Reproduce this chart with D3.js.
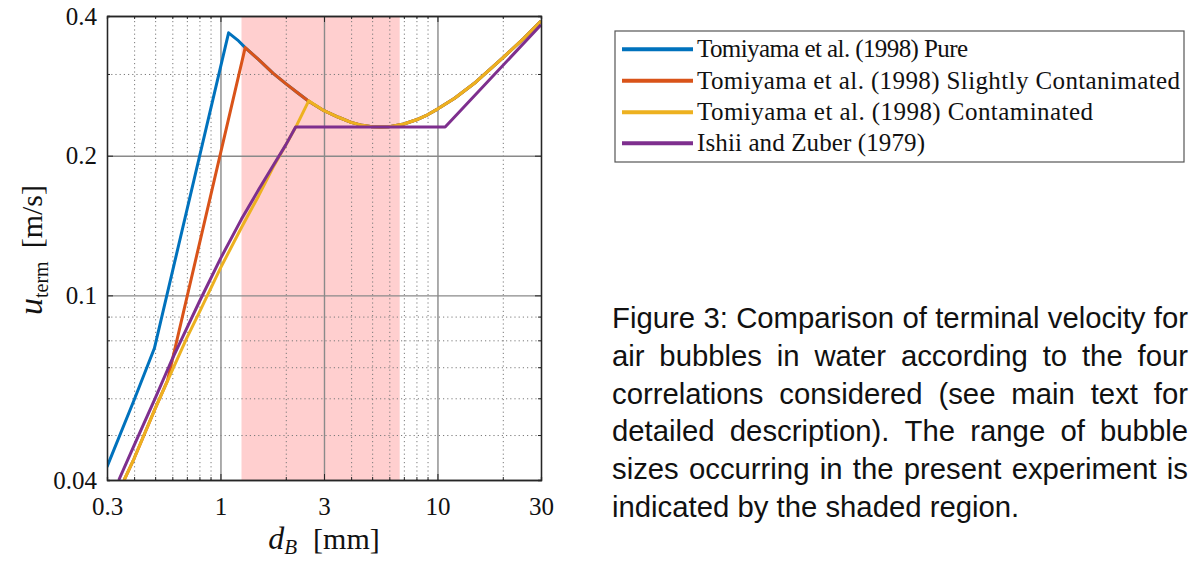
<!DOCTYPE html>
<html>
<head>
<meta charset="utf-8">
<script src="https://cdn.jsdelivr.net/npm/d3@7"></script>
<style>
  body { margin: 0; background: #fff; }
  svg { display: block; }
</style>
</head>
<body>
<div id="chart"></div>
<script>
// bubble diameter d_B [mm] and terminal velocity [m/s]
var pureD = [0.3, 0.4, 0.496, 1.09];
var pureU = [0.0427, 0.0595, 0.0769, 0.368];

var slightD = [0.36, 0.4, 0.5, 0.57, 1.3];
var slightU = [0.040, 0.0445, 0.057, 0.0655, 0.342];

var contamD = [0.36, 0.4, 0.5, 0.6, 0.7, 0.8, 1.0, 1.25, 1.5, 1.75, 2.0, 2.25, 2.55];
var contamU = [0.040, 0.0445, 0.057, 0.069, 0.081, 0.092, 0.1145, 0.140, 0.164, 0.189, 0.211, 0.233, 0.2625];

// surface tension branch, shared by the three Tomiyama curves
var capD = [1.2, 1.3, 1.5, 1.75, 2.0, 2.25, 2.55, 3.0, 3.5, 4.0, 4.5, 5.0, 5.5, 6.0, 7.0, 8.0, 9.0, 10, 12, 15, 20, 25, 30];
var capU = [0.355, 0.342, 0.322, 0.301, 0.286, 0.274, 0.262, 0.250, 0.242, 0.236, 0.2325, 0.231, 0.2305, 0.231, 0.234, 0.239, 0.245, 0.252, 0.266, 0.288, 0.325, 0.358, 0.390];

var ishiiD = [0.34, 0.4, 0.5, 0.6, 0.7, 0.8, 1.0, 1.25, 1.5, 1.75, 2.0, 2.22, 10.85, 30];
var ishiiU = [0.040, 0.0475, 0.060, 0.073, 0.085, 0.097, 0.120, 0.146, 0.169, 0.1905, 0.211, 0.2305, 0.2305, 0.383];

// bubble sizes seen in the experiment
var shadeRange = [1.25, 6.7];

var seriesNames = [
    "Tomiyama et al. (1998) Pure",
    "Tomiyama et al. (1998) Slightly Contanimated",
    "Tomiyama et al. (1998) Contaminated",
    "Ishii and Zuber (1979)"
];
var seriesColors = ["#0072BD", "#D95319", "#EDB120", "#7E2F8E"];

var xTicks = [0.3, 1, 3, 10, 30];
var xTickLabels = ["0.3", "1", "3", "10", "30"];
var xMinor = [0.4, 0.5, 0.6, 0.7, 0.8, 0.9, 2, 4, 5, 6, 7, 8, 9, 20];
var xMajorGrid = [1, 3, 10];
var yTicks = [0.04, 0.1, 0.2, 0.4];
var yTickLabels = ["0.04", "0.1", "0.2", "0.4"];
var yMinor = [0.05, 0.06, 0.07, 0.08, 0.09, 0.3];
var yMajorGrid = [0.1, 0.2];

var captionLines = [
    "Figure 3: Comparison of terminal velocity for",
    "air bubbles in water according to the four",
    "correlations considered (see main text for",
    "detailed description). The range of bubble",
    "sizes occurring in the present experiment is",
    "indicated by the shaded region."
];

function zip(ds, us) {
    return ds.map(function (d, i) { return [d, us[i]]; });
}
function withCap(pts) {
    var last = pts[pts.length - 1][0];
    return pts.concat(zip(capD, capU).filter(function (p) { return p[0] > last; }));
}

var series = [
    withCap(zip(pureD, pureU)),
    withCap(zip(slightD, slightU)),
    withCap(zip(contamD, contamU)),
    zip(ishiiD, ishiiU)
];

var W = 1190, H = 561;
var box = { left: 107, top: 16, right: 541, bottom: 480 };
var serif = "'Liberation Serif', 'Times New Roman', serif";

var svg = d3.select("#chart").append("svg")
    .attr("width", W)
    .attr("height", H);

var x = d3.scaleLog().domain([0.3, 30]).range([box.left, box.right]);
var y = d3.scaleLog().domain([0.04, 0.4]).range([box.bottom, box.top]);
var plotH = box.bottom - box.top;
var plotW = box.right - box.left;

// shaded range
svg.append("rect")
    .attr("x", x(shadeRange[0]))
    .attr("y", box.top)
    .attr("width", x(shadeRange[1]) - x(shadeRange[0]))
    .attr("height", plotH)
    .attr("fill", "#ff0000")
    .attr("fill-opacity", 0.19);

// grid
function gridStyle(g, dotted) {
    g.select(".domain").remove();
    g.selectAll("line")
        .attr("stroke", dotted ? "#7a7a7a" : "#8a8a8a")
        .attr("stroke-width", dotted ? 1 : 1.4)
        .attr("stroke-dasharray", dotted ? "1.2,3" : null);
}
svg.append("g")
    .attr("transform", "translate(0," + box.bottom + ")")
    .call(d3.axisBottom(x).tickValues(xMinor).tickSize(-plotH).tickFormat(""))
    .call(gridStyle, true);
svg.append("g")
    .attr("transform", "translate(" + box.left + ",0)")
    .call(d3.axisLeft(y).tickValues(yMinor).tickSize(-plotW).tickFormat(""))
    .call(gridStyle, true);
svg.append("g")
    .attr("transform", "translate(0," + box.bottom + ")")
    .call(d3.axisBottom(x).tickValues(xMajorGrid).tickSize(-plotH).tickFormat(""))
    .call(gridStyle, false);
svg.append("g")
    .attr("transform", "translate(" + box.left + ",0)")
    .call(d3.axisLeft(y).tickValues(yMajorGrid).tickSize(-plotW).tickFormat(""))
    .call(gridStyle, false);

// curves
svg.append("clipPath").attr("id", "plotClip")
    .append("rect")
    .attr("x", box.left).attr("y", box.top)
    .attr("width", plotW).attr("height", plotH);

var line = d3.line()
    .x(function (d) { return x(d[0]); })
    .y(function (d) { return y(d[1]); });

svg.append("g")
    .attr("clip-path", "url(#plotClip)")
    .selectAll("path")
    .data(series)
    .enter()
    .append("path")
    .attr("d", line)
    .attr("fill", "none")
    .attr("stroke", function (d, i) { return seriesColors[i]; })
    .attr("stroke-width", 3)
    .attr("stroke-linejoin", "round");

// axes with inward ticks on all four sides
function axisStyle(g) {
    g.select(".domain").attr("stroke", "#262626").attr("stroke-width", 1.3);
    g.selectAll(".tick line").attr("stroke", "#262626").attr("stroke-width", 1);
    g.attr("font-family", serif).attr("font-size", 25);
    g.selectAll("text").attr("fill", "#111");
}
svg.append("g")
    .attr("transform", "translate(0," + box.bottom + ")")
    .call(d3.axisBottom(x).tickValues(xTicks).tickSize(-6).tickSizeOuter(0).tickPadding(17)
        .tickFormat(function (d, i) { return xTickLabels[i]; }))
    .call(axisStyle);
svg.append("g")
    .attr("transform", "translate(0," + box.top + ")")
    .call(d3.axisTop(x).tickValues(xTicks).tickSize(-6).tickSizeOuter(0).tickFormat(""))
    .call(axisStyle);
svg.append("g")
    .attr("transform", "translate(" + box.left + ",0)")
    .call(d3.axisLeft(y).tickValues(yTicks).tickSize(-6).tickSizeOuter(0).tickPadding(10)
        .tickFormat(function (d, i) { return yTickLabels[i]; }))
    .call(axisStyle);
svg.append("g")
    .attr("transform", "translate(" + box.right + ",0)")
    .call(d3.axisRight(y).tickValues(yTicks).tickSize(-6).tickSizeOuter(0).tickFormat(""))
    .call(axisStyle);

// minor ticks
[["axisBottom", box.bottom], ["axisTop", box.top]].forEach(function (a) {
    svg.append("g")
        .attr("transform", "translate(0," + a[1] + ")")
        .call(d3[a[0]](x).tickValues(xMinor).tickSize(-3).tickFormat(""))
        .call(axisStyle);
});
[["axisLeft", box.left], ["axisRight", box.right]].forEach(function (a) {
    svg.append("g")
        .attr("transform", "translate(" + a[1] + ",0)")
        .call(d3[a[0]](y).tickValues(yMinor).tickSize(-3).tickFormat(""))
        .call(axisStyle);
});

// axis titles
var xt = svg.append("text")
    .attr("x", 324).attr("y", 549)
    .attr("text-anchor", "middle")
    .attr("font-family", serif)
    .attr("font-size", 30)
    .attr("fill", "#111");
xt.append("tspan").attr("font-style", "italic").attr("font-size", 32).text("d");
xt.append("tspan").attr("font-style", "italic").attr("font-size", 21).attr("dy", 5).text("B");
xt.append("tspan").attr("dx", 16).attr("dy", -5).text("[mm]");

var yt = svg.append("text")
    .attr("transform", "translate(42,250) rotate(-90)")
    .attr("text-anchor", "middle")
    .attr("font-family", serif)
    .attr("font-size", 30)
    .attr("fill", "#111");
yt.append("tspan").attr("font-style", "italic").attr("font-size", 34).text("u");
yt.append("tspan").attr("font-size", 20).attr("dy", 6).text("term");
yt.append("tspan").attr("dx", 13).attr("dy", -6).text("[m/s]");

// legend
var legend = svg.append("g");
legend.append("rect")
    .attr("x", 615).attr("y", 31)
    .attr("width", 569).attr("height", 131)
    .attr("fill", "#fff")
    .attr("stroke", "#555")
    .attr("stroke-width", 1.2);
var rowY = [49.3, 80.7, 112.3, 143.3];
var rowEnd = [968, 1180, 1093, 925];
var rows = legend.selectAll("g.row")
    .data(seriesNames)
    .enter()
    .append("g")
    .attr("class", "row");
rows.append("line")
    .attr("x1", 622).attr("x2", 693)
    .attr("y1", function (d, i) { return rowY[i]; })
    .attr("y2", function (d, i) { return rowY[i]; })
    .attr("stroke", function (d, i) { return seriesColors[i]; })
    .attr("stroke-width", 4);
rows.append("text")
    .attr("x", 697)
    .attr("y", function (d, i) { return rowY[i] + 8; })
    .attr("font-family", serif)
    .attr("font-size", 25)
    .attr("fill", "#111")
    .attr("textLength", function (d, i) { return rowEnd[i] - 697; })
    .attr("lengthAdjust", "spacing")
    .text(function (d) { return d; });

// caption, justified
var capLeft = 612, capRight = 1188, capTop = 328, capStep = 37.8;
var caption = svg.append("g")
    .attr("font-family", "'Liberation Sans', Arial, sans-serif")
    .attr("font-size", 29.3)
    .attr("fill", "#111");
captionLines.forEach(function (txt, li) {
    var words = txt.split(" ");
    var yy = capTop + li * capStep;
    var nodes = words.map(function (w) {
        return caption.append("text").attr("y", yy).text(w);
    });
    var widths = nodes.map(function (n) { return n.node().getComputedTextLength(); });
    var total = d3.sum(widths);
    var last = li === captionLines.length - 1;
    var gap = last ? 29.3 * 0.278 : (capRight - capLeft - total) / (words.length - 1);
    var cx = capLeft;
    nodes.forEach(function (n, i) {
        n.attr("x", cx);
        cx += widths[i] + gap;
    });
});
</script>
</body>
</html>
